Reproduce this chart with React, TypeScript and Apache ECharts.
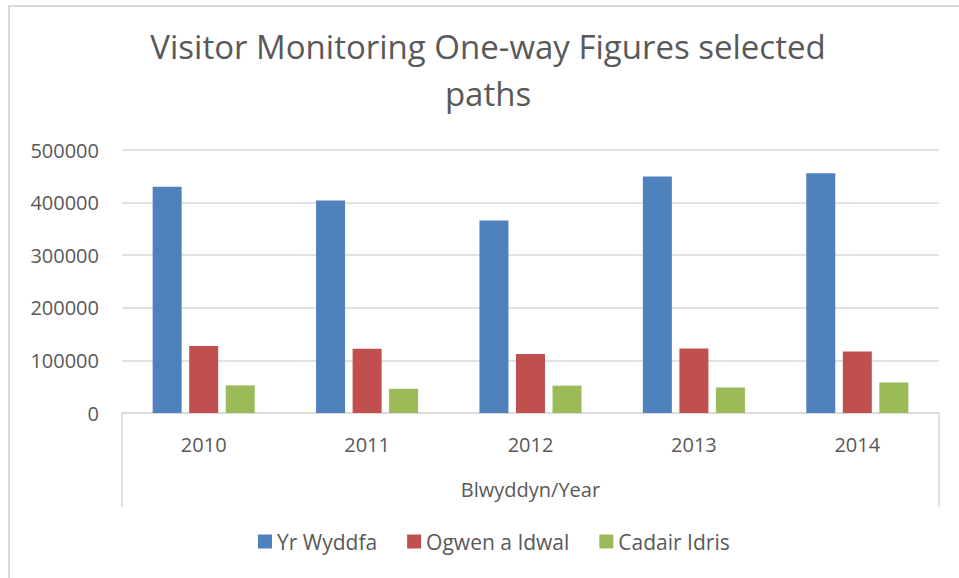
import React, { useEffect, useRef } from "react";
import * as echarts from "echarts";

const titleText = "Visitor Monitoring One-way Figures selected\npaths";
const years = ["2010", "2011", "2012", "2013", "2014"];
const seriesNames = ["Yr Wyddfa", "Ogwen a Idwal", "Cadair Idris"];
const yrWyddfa = [430000, 404000, 366000, 449500, 456000];
const ogwenIdwal = [127500, 122000, 112000, 122500, 117000];
const cadairIdris = [52500, 46000, 52000, 48500, 58000];
const colors = ["#4f81bd", "#c0504d", "#9bbb59"];
const xAxisName = "Blwyddyn/Year";

const FONT = "Open Sans";
const TEXT = "#595959";
const LINE = "#d9d9d9";

export default function App() {
  const ref = useRef<HTMLDivElement>(null);
  useEffect(() => {
    if (!ref.current) return;
    const chart = echarts.init(ref.current, null, { renderer: "svg" });
    const gridLeft = 122;
    const gridRight = 20;
    const gridTop = 150;
    const gridBottom = 165;
    const W = 959;
    const H = 578;
    const axisY = H - gridBottom;
    const dataSets = [yrWyddfa, ogwenIdwal, cadairIdris];
    chart.setOption({
      animation: false,
      textStyle: { fontFamily: FONT },
      title: {
        text: titleText,
        left: 488,
        top: 23,
        padding: 0,
        textAlign: "center",
        textStyle: {
          fontFamily: FONT,
          fontSize: 33,
          fontWeight: "normal",
          color: TEXT,
          lineHeight: 47,
        },
      },
      legend: {
        left: 258,
        top: 531,
        padding: 0,
        itemWidth: 14,
        itemHeight: 14,
        itemGap: 30,
        icon: "rect",
        textStyle: { fontFamily: FONT, fontSize: 21, color: TEXT },
        data: seriesNames,
      },
      grid: { left: gridLeft, right: gridRight, top: gridTop, bottom: gridBottom },
      xAxis: {
        type: "category",
        data: years,
        name: xAxisName,
        nameLocation: "middle",
        nameGap: 66,
        nameTextStyle: { fontFamily: FONT, fontSize: 20, color: TEXT },
        axisLine: { show: true, lineStyle: { color: LINE, width: 1.5 } },
        axisTick: { show: false },
        axisLabel: { fontFamily: FONT, fontSize: 20, color: TEXT, margin: 21 },
      },
      yAxis: {
        type: "value",
        min: 0,
        max: 500000,
        interval: 100000,
        axisLine: { show: false },
        axisTick: { show: false },
        splitLine: { lineStyle: { color: LINE, width: 1.5 } },
        axisLabel: {
          fontFamily: FONT,
          fontSize: 20,
          color: TEXT,
          margin: 23,
          formatter: (v: number) => String(v),
        },
      },
      series: seriesNames.map((name, i) => ({
        name,
        type: "bar",
        data: dataSets[i],
        barWidth: 29,
        barGap: "26%",
        itemStyle: { color: colors[i] },
      })),
      graphic: [
        {
          type: "rect",
          shape: { x: 9, y: 6, width: 1200, height: 1200 },
          style: { fill: "none", stroke: LINE, lineWidth: 2 },
          silent: true,
        },
        {
          type: "line",
          shape: { x1: gridLeft, y1: axisY, x2: gridLeft, y2: 507 },
          style: { stroke: LINE, lineWidth: 1.5 },
          silent: true,
        },
        {
          type: "line",
          shape: { x1: W - gridRight, y1: axisY, x2: W - gridRight, y2: 507 },
          style: { stroke: LINE, lineWidth: 1.5 },
          silent: true,
        },
      ],
    });
    return () => chart.dispose();
  }, []);
  return (
    <div
      ref={ref}
      style={{ position: "absolute", left: 0, top: 0, width: 959, height: 578, background: "#fff" }}
    />
  );
}
